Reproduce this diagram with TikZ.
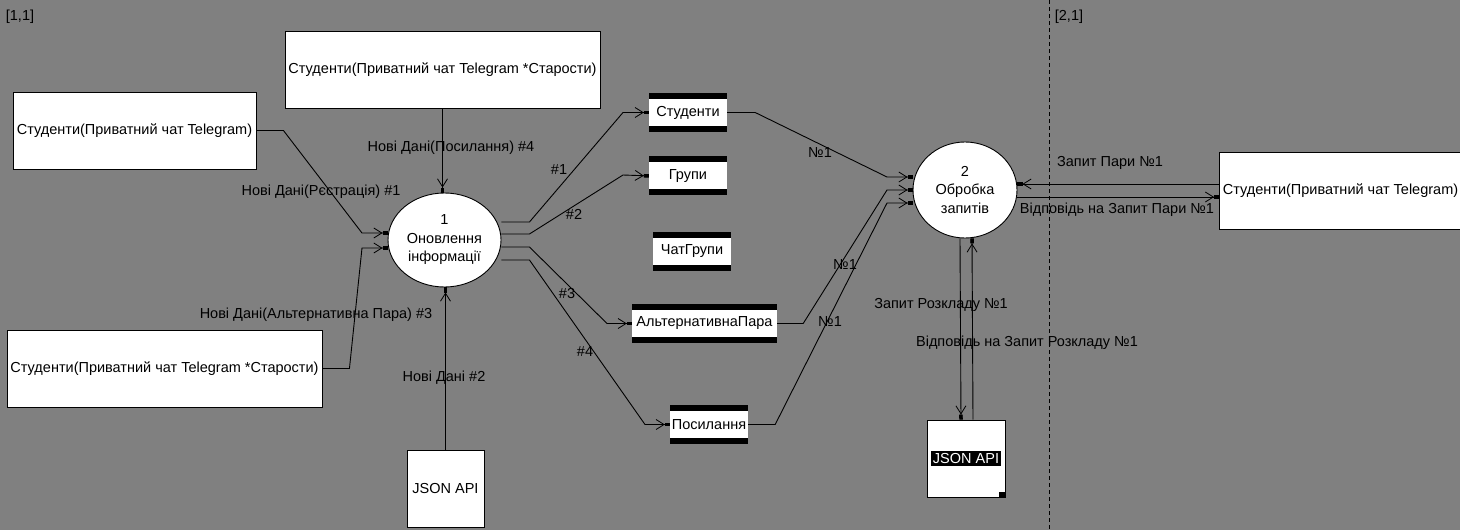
\documentclass[tikz,border=0pt]{standalone}
\usepackage{fontspec}
\setmainfont{Liberation Sans}
\usetikzlibrary{positioning,shapes.geometric,arrows.meta}
\definecolor{canvas}{RGB}{128,128,128}

\begin{document}
\begin{tikzpicture}[x=1pt,y=-1pt,every node/.style={font=\fontsize{14.5}{18.5}\selectfont},
  ext/.style={draw=black,fill=white,line width=0.9pt,minimum height=77pt,inner xsep=1pt},
  proc/.style={ellipse,draw=black,fill=white,line width=0.9pt,align=center,inner sep=0pt},
  store/.style={fill=white,minimum height=39pt,inner sep=1pt,path picture={
      \fill[black] (path picture bounding box.north west) rectangle ([yshift=-6pt]path picture bounding box.north east);
      \fill[black] (path picture bounding box.south west) rectangle ([yshift=6pt]path picture bounding box.south east);}},
  flow/.style={-{Straight Barb[length=8pt,width=10pt,line width=0.8pt]Rectangle[length=5pt,width=3.5pt]},line width=0.9pt},
  lbl/.style={inner sep=0pt}]
        \useasboundingbox (0,0) rectangle (1460,530);
        \fill[canvas] (0,0) rectangle (1460,530);

        \coordinate (dtop) at (1049,0);
        \coordinate (dbot) at (1049,530);
        \draw[line width=0.9pt,dash pattern=on 4pt off 3pt] (dtop) -- (dbot);
        \node[lbl] (g11) at (20,17) {[1,1]};
        \node[lbl] (g21) at (1069,17) {[2,1]};

        \node[ext,minimum width=315pt] (ext1) at (442.5,70) {Студенти(Приватний чат Telegram *Старости)};
        \node[ext,minimum width=243pt] (ext2) at (134.5,130.5) {Студенти(Приватний чат Telegram)};
        \node[ext,minimum width=315pt] (ext3) at (164.5,368.5) {Студенти(Приватний чат Telegram *Старости)};
        \node[ext,minimum width=242pt] (ext4) at (1340.5,190.5) {Студенти(Приватний чат Telegram)};
        \node[ext,minimum width=77pt] (api1) at (445.5,489) {JSON API};
        \node[ext,minimum width=78pt] (api2) at (966,458.5) {};
        \node[fill=black,text=white,inner sep=2pt] (api2t) at (api2) {JSON API};
        \fill[black] (api2.south east) rectangle ++(-6,-5);

        \node[proc,minimum width=113pt,minimum height=94pt] (pr1) at (444.5,240) {1\\Оновлення\\інформації};
        \node[proc,minimum width=104pt,minimum height=96pt] (pr2) at (965,190) {2\\Обробка\\запитів};

        \node[store,minimum width=78pt] (ds1) at (688,112.5) {Студенти};
        \node[store,minimum width=78pt] (ds2) [below = 24pt of ds1] {Групи};
        \node[store,minimum width=78pt] (ds3) [below = 36pt of ds2, xshift=4pt] {ЧатГрупи};
        \node[store,minimum width=145pt] (ds4) at (704.5,323.5) {АльтернативнаПара};
        \node[store,minimum width=78pt] (ds5) at (709,424.5) {Посилання};

        \draw[flow] (ext2.east) -- ++(27,0) -- (362,233) -- (pr1.west |- 0,233);
        \draw[flow] (ext3.east) -- ++(27,0) -- (362,248) -- (pr1.west |- 0,248);
        \draw[flow] (ext1.south) -- (ext1.south |- pr1.north);
        \draw[flow] (api1.north) -- (api1.north |- pr1.south);

        \draw[flow] (pr1.east |- 0,222) -- ++(28,0) -- (623,112.5) -- (ds1.west);
        \draw[flow] (pr1.east |- 0,234) -- ++(28,0) -- (623,175) -- (ds2.west);
        \draw[flow] (pr1.east |- 0,247) -- ++(28,0) -- (607,323.5) -- (ds4.west);
        \draw[flow] (pr1.east |- 0,260) -- ++(28,0) -- (645,424.5) -- (ds5.west);

        \draw[flow] (ds1.east) -- ++(28,0) -- (887,177) -- (pr2.west |- 0,177);
        \draw[flow] (ds4.east) -- ++(26,0) -- (887,190) -- (pr2.west);
        \draw[flow] (ds5.east) -- ++(27,0) -- (887,203) -- (pr2.west |- 0,203);

        \draw[flow] ([xshift=-5pt]pr2.south) -- ([xshift=-5pt]api2.north);
        \draw[flow] ([xshift=7pt]api2.north) -- ([xshift=7pt]pr2.south);
        \draw[flow] (ext4.west |- 0,184) -- (pr2.east |- 0,184);
        \draw[flow] (pr2.east |- 0,197) -- (ext4.west |- 0,197);

        \node[lbl] (l1) at (321,192) {Нові Дані(Рєстрація) \#1};
        \node[lbl] (l2) at (316,315) {Нові Дані(Альтернативна Пара) \#3};
        \node[lbl] (l3) at (451,148) {Нові Дані(Посилання) \#4};
        \node[lbl] (l4) at (444,378) {Нові Дані \#2};
        \node[lbl] (l5) at (559,170) {\#1};
        \node[lbl] (l6) at (574,214) {\#2};
        \node[lbl] (l7) at (567,294) {\#3};
        \node[lbl] (l8) at (585,352) {\#4};
        \node[lbl] (l9) at (820,153) {№1};
        \node[lbl] (l10) at (845,265) {№1};
        \node[lbl] (l11) at (830,322) {№1};
        \node[lbl] (l12) at (1110,163) {Запит Пари №1};
        \node[lbl] (l13) at (1117,210) {Відповідь на Запит Пари №1};
        \node[lbl] (l14) at (941,305) {Запит Розкладу №1};
        \node[lbl] (l15) at (1027,343) {Відповідь на Запит Розкладу №1};
    \end{tikzpicture}
\end{document}
